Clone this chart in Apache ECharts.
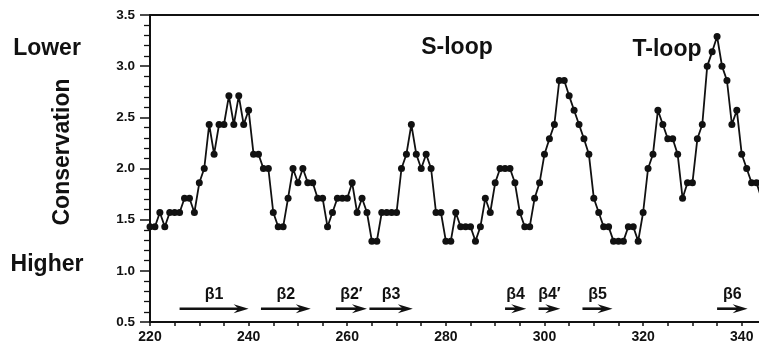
<!DOCTYPE html>
<html>
<head>
<meta charset="utf-8">
<script src="https://cdn.jsdelivr.net/npm/echarts@6/dist/echarts.min.js"></script>
<style>
html,body{margin:0;padding:0;background:#fff;}
#c{width:759px;height:350px;}
</style>
</head>
<body>
<div id="c"></div>
<script>
// ---- data ----
const firstResidue = 220;
const conservation = [
  1.43,1.43,1.57,1.43,1.57,1.57,1.57,1.71,1.71,1.57, // 220-229
  1.86,2.00,2.43,2.14,2.43,2.43,2.71,2.43,2.71,2.43, // 230-239
  2.57,2.14,2.14,2.00,2.00,1.57,1.43,1.43,1.71,2.00, // 240-249
  1.86,2.00,1.86,1.86,1.71,1.71,1.43,1.57,1.71,1.71, // 250-259
  1.71,1.86,1.57,1.71,1.57,1.29,1.29,1.57,1.57,1.57, // 260-269
  1.57,2.00,2.14,2.43,2.14,2.00,2.14,2.00,1.57,1.57, // 270-279
  1.29,1.29,1.57,1.43,1.43,1.43,1.29,1.43,1.71,1.57, // 280-289
  1.86,2.00,2.00,2.00,1.86,1.57,1.43,1.43,1.71,1.86, // 290-299
  2.14,2.29,2.43,2.86,2.86,2.71,2.57,2.43,2.29,2.14, // 300-309
  1.71,1.57,1.43,1.43,1.29,1.29,1.29,1.43,1.43,1.29, // 310-319
  1.57,2.00,2.14,2.57,2.43,2.29,2.29,2.14,1.71,1.86, // 320-329
  1.86,2.29,2.43,3.00,3.14,3.29,3.00,2.86,2.43,2.57, // 330-339
  2.14,2.00,1.86,1.86,1.71                            // 340-344
];
const strandNames = ['β1','β2','β2′','β3','β4','β4′','β5','β6'];
const strandStart = [226, 242.5, 257.7, 264.5, 292, 298.8, 307.7, 335];
const strandEnd   = [240, 252.6, 264, 273.3, 296.3, 303.2, 313.8, 341.2];
const yTickLabels = ['0.5','1.0','1.5','2.0','2.5','3.0','3.5'];
const xTickLabels = ['220','240','260','280','300','320','340'];

// ---- build ----
const seriesData = conservation.map((v, i) => [firstResidue + i, v]);
const strandData = strandNames.map((n, i) => [strandStart[i], strandEnd[i], n]);
const ARROW_Y = 0.63;
const FONT = '"Liberation Sans", Arial, sans-serif';

const chart = echarts.init(document.getElementById('c'), null, {renderer: 'canvas'});
chart.setOption({
  animation: false,
  grid: {left: 150, right: 0, top: 15, bottom: 28},
  xAxis: [{
    type: 'value', min: 220, max: 343.5, interval: 5,
    axisLine: {show: true, onZero: false, lineStyle: {color: '#111', width: 2}},
    axisTick: {show: true, length: 4, lineStyle: {color: '#111', width: 1.5}},
    axisLabel: {
      color: '#111', fontFamily: FONT, fontWeight: 'bold', fontSize: 14, margin: 8,
      showMaxLabel: false,
      formatter: v => xTickLabels.indexOf(String(v)) >= 0 ? String(v) : ''
    },
    splitLine: {show: false}
  }, {
    type: 'value', position: 'top', min: 220, max: 343.5,
    axisLine: {show: true, onZero: false, lineStyle: {color: '#111', width: 2}},
    axisTick: {show: false}, axisLabel: {show: false}, splitLine: {show: false}
  }],
  yAxis: {
    type: 'value', min: 0.5, max: 3.5, interval: 0.5,
    axisLine: {show: true, lineStyle: {color: '#111', width: 2}},
    axisTick: {show: true, length: 10, lineStyle: {color: '#111', width: 1.5}},
    minorTick: {show: true, splitNumber: 5, length: 6, lineStyle: {color: '#111', width: 1.3}},
    axisLabel: {
      color: '#111', fontFamily: FONT, fontWeight: 'bold', fontSize: 13.5, margin: 15,
      formatter: v => yTickLabels[Math.round((v - 0.5) / 0.5)]
    },
    splitLine: {show: false}
  },
  series: [{
    type: 'line',
    data: seriesData,
    symbol: 'circle', symbolSize: 7,
    lineStyle: {color: '#111', width: 1.8},
    itemStyle: {color: '#111'},
    clip: true
  }, {
    type: 'custom',
    data: strandData,
    clip: false,
    renderItem: function (params, api) {
      const p1 = api.coord([api.value(0), ARROW_Y]);
      const p2 = api.coord([api.value(1), ARROW_Y]);
      const y = p1[1];
      const tipX = p2[0];
      const mid = (p1[0] + p2[0]) / 2;
      return {
        type: 'group',
        children: [{
          type: 'line',
          shape: {x1: p1[0], y1: y, x2: tipX - 7, y2: y},
          style: {stroke: '#111', lineWidth: 2.6}
        }, {
          type: 'polygon',
          shape: {points: [[tipX, y], [tipX - 15, y - 4.5], [tipX - 10, y], [tipX - 15, y + 4.5]]},
          style: {fill: '#111'}
        }, {
          type: 'text',
          x: mid, y: y - 14,
          style: {
            text: strandNames[params.dataIndex],
            font: 'bold 16px ' + FONT,
            fill: '#111', align: 'center', verticalAlign: 'middle'
          }
        }]
      };
    }
  }],
  graphic: [
    {type: 'text', x: 47, y: 49, style: {text: 'Lower', font: 'bold 23px ' + FONT, fill: '#111', align: 'center', verticalAlign: 'middle'}},
    {type: 'text', x: 47, y: 265, style: {text: 'Higher', font: 'bold 23px ' + FONT, fill: '#111', align: 'center', verticalAlign: 'middle'}},
    {type: 'text', x: 63, y: 152, rotation: Math.PI / 2, style: {text: 'Conservation', font: 'bold 23px ' + FONT, fill: '#111', align: 'center', verticalAlign: 'middle'}},
    {type: 'text', x: 457, y: 48, style: {text: 'S-loop', font: 'bold 23px ' + FONT, fill: '#111', align: 'center', verticalAlign: 'middle'}},
    {type: 'text', x: 667, y: 50, style: {text: 'T-loop', font: 'bold 23px ' + FONT, fill: '#111', align: 'center', verticalAlign: 'middle'}}
  ]
});
</script>
</body>
</html>
